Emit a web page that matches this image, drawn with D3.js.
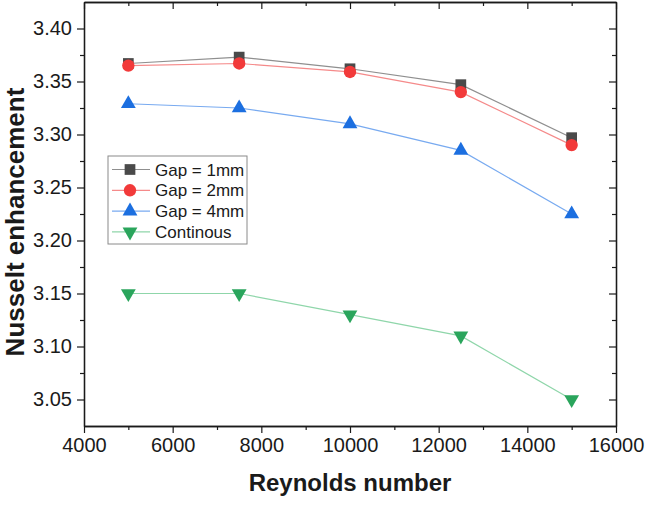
<!DOCTYPE html>
<html>
<head>
<meta charset="utf-8">
<script src="https://cdn.jsdelivr.net/npm/d3@7"></script>
<style>
  body { margin: 0; background: #fff; }
  text { font-family: Arial, "Liberation Sans", sans-serif; }
</style>
</head>
<body>
<div id="chart"></div>
<script>
// Plot constants
const WIDTH = 646;
const HEIGHT = 505;
const margin = {top: 2, right: 30, bottom: 79, left: 84};

// data
const reynolds = [5000, 7500, 10000, 12500, 15000];
const gap1 = [3.367, 3.373, 3.362, 3.347, 3.297];
const gap2 = [3.365, 3.367, 3.359, 3.340, 3.290];
const gap4 = [3.329, 3.325, 3.310, 3.285, 3.225];
const continous = [3.150, 3.150, 3.130, 3.110, 3.050];
const seriesNames = ["Gap = 1mm", "Gap = 2mm", "Gap = 4mm", "Continous"];
const xTicks = [4000, 6000, 8000, 10000, 12000, 14000, 16000];
const yTicks = [3.05, 3.10, 3.15, 3.20, 3.25, 3.30, 3.35, 3.40];

const series = [
  {name: seriesNames[0], values: gap1, marker: "square", fill: "#4a4a4a", line: "#8f8f8f"},
  {name: seriesNames[1], values: gap2, marker: "circle", fill: "#f23a3a", line: "#f58a8a"},
  {name: seriesNames[2], values: gap4, marker: "triangle", fill: "#1c6fe0", line: "#78aaf0"},
  {name: seriesNames[3], values: continous, marker: "down", fill: "#2aa55c", line: "#8fd6aa"},
];

const svg = d3.select("#chart").append("svg")
  .attr("width", WIDTH).attr("height", HEIGHT);

const x0 = margin.left, x1 = WIDTH - margin.right;
const y0 = HEIGHT - margin.bottom, y1 = margin.top;

const x = d3.scaleLinear().domain([4000, 16000]).range([x0, x1]);
const y = d3.scaleLinear().domain([3.025, 3.425]).range([y0, y1]);

// minor ticks
const xMinor = d3.range(5000, 16000, 2000);
const yMinor = d3.range(3.075, 3.425, 0.05);

// axes (bottom + left outward, top + right inward)
const axisG = svg.append("g").attr("class", "axes");
function drawAxis(axis, transform) {
  return axisG.append("g").attr("transform", transform).call(axis)
    .call(g => g.select(".domain").attr("stroke", "#1a1a1a").attr("stroke-width", 1.3))
    .call(g => g.selectAll(".tick line").attr("stroke", "#1a1a1a").attr("stroke-width", 1.2));
}

const bottom = drawAxis(d3.axisBottom(x).tickValues(xTicks).tickSize(7).tickSizeOuter(0).tickPadding(5)
  .tickFormat(d3.format("d")), `translate(0,${y0})`);
bottom.selectAll("text").attr("font-size", 20).attr("fill", "#1a1a1a");
drawAxis(d3.axisBottom(x).tickValues(xMinor).tickSize(4).tickSizeOuter(0).tickFormat(""), `translate(0,${y0})`);

const left = drawAxis(d3.axisLeft(y).tickValues(yTicks).tickSize(7).tickSizeOuter(0).tickPadding(5)
  .tickFormat(d3.format(".2f")), `translate(${x0},0)`);
left.selectAll("text").attr("font-size", 20).attr("fill", "#1a1a1a");
drawAxis(d3.axisLeft(y).tickValues(yMinor).tickSize(4).tickSizeOuter(0).tickFormat(""), `translate(${x0},0)`);

drawAxis(d3.axisBottom(x).tickValues(xTicks).tickSize(7).tickSizeOuter(0).tickFormat(""), `translate(0,${y1})`);
drawAxis(d3.axisBottom(x).tickValues(xMinor).tickSize(4).tickSizeOuter(0).tickFormat(""), `translate(0,${y1})`);
drawAxis(d3.axisLeft(y).tickValues(yTicks).tickSize(7).tickSizeOuter(0).tickFormat(""), `translate(${x1},0)`);
drawAxis(d3.axisLeft(y).tickValues(yMinor).tickSize(4).tickSizeOuter(0).tickFormat(""), `translate(${x1},0)`);

// axis titles
svg.append("text")
  .attr("x", (x0 + x1) / 2).attr("y", 491)
  .attr("text-anchor", "middle")
  .attr("font-size", 24).attr("font-weight", "bold").attr("fill", "#1a1a1a")
  .text("Reynolds number");

svg.append("text")
  .attr("transform", `translate(24,${(y0 + y1) / 2 + 8}) rotate(-90)`)
  .attr("text-anchor", "middle")
  .attr("font-size", 26).attr("font-weight", "bold").attr("fill", "#1a1a1a")
  .text("Nusselt enhancement");

// markers
const symbolType = {
  square: d3.symbolSquare,
  circle: d3.symbolCircle,
  triangle: d3.symbolTriangle,
  down: d3.symbolTriangle,
};
const symbolSize = {square: 115, circle: 120, triangle: 95, down: 95};
function markerPath(m) {
  return d3.symbol().type(symbolType[m]).size(symbolSize[m])();
}
function markerTransform(m, px, py) {
  return m === "down" ? `translate(${px},${py}) rotate(180)` : `translate(${px},${py})`;
}

const line = d3.line().x((d, i) => x(reynolds[i])).y(d => y(d));

const plot = svg.append("g");
series.forEach(s => {
  plot.append("path")
    .datum(s.values)
    .attr("fill", "none")
    .attr("stroke", s.line)
    .attr("stroke-width", 1.2)
    .attr("d", line);
});
series.forEach(s => {
  plot.selectAll(null)
    .data(s.values)
    .enter()
    .append("path")
    .attr("d", markerPath(s.marker))
    .attr("fill", s.fill)
    .attr("transform", (d, i) => markerTransform(s.marker, x(reynolds[i]), y(d)));
});

// legend
const legend = svg.append("g").attr("transform", "translate(108,156)");
legend.append("rect")
  .attr("width", 139).attr("height", 88)
  .attr("fill", "#fff").attr("stroke", "#8a8a8a").attr("stroke-width", 1);

series.forEach((s, i) => {
  const ry = 13.5 + i * 20.8;
  legend.append("line")
    .attr("x1", 4).attr("x2", 42).attr("y1", ry).attr("y2", ry)
    .attr("stroke", s.line).attr("stroke-width", 1.2);
  legend.append("path")
    .attr("d", markerPath(s.marker))
    .attr("fill", s.fill)
    .attr("transform", markerTransform(s.marker, 22, ry));
  legend.append("text")
    .attr("x", 47).attr("y", ry + 6)
    .attr("font-size", 17).attr("fill", "#1a1a1a")
    .text(s.name);
});
</script>
</body>
</html>
